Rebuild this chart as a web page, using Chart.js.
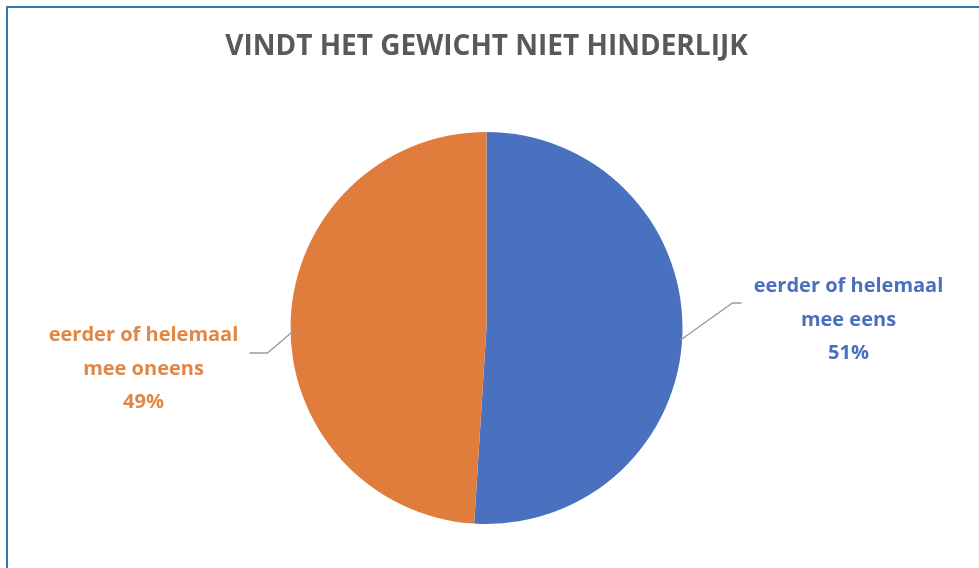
<!DOCTYPE html>
<html>
<head>
<meta charset="utf-8">
<script src="https://cdn.jsdelivr.net/npm/chart.js@4/dist/chart.umd.min.js"></script>
<style>
  html, body { margin: 0; padding: 0; background: #fff; overflow: hidden; }
  #wrap { position: relative; width: 979px; height: 568px; }
  #frame {
    position: absolute; left: 6px; top: 6px; right: -10px; bottom: -10px;
    border-left: 2px solid #2f77b5; border-top: 2px solid #2f77b5;
    pointer-events: none;
  }
  canvas { position: absolute; left: 0; top: 0; }
</style>
</head>
<body>
<div id="wrap">
  <canvas id="chart" width="979" height="568"></canvas>
  <div id="frame"></div>
</div>
<script>
// --- data ---
const titleText = 'VINDT HET GEWICHT NIET HINDERLIJK';
const categories = [
  ['eerder of helemaal', 'mee eens'],
  ['eerder of helemaal', 'mee oneens']
];
const values = [51, 49];
const sliceColors = ['#4a71c0', '#e07d3c'];
const labelColors = ['#4a6fbf', '#e08746'];

// label text blocks and leader lines, placed beside each slice
// (offsets are relative to the pie centre / slice edge)
const labelPlacement = [
  { dx: 362, dy: -8, edgeDy: 12, elbow: [52, -37], end: [61, -37] },
  { dx: -343, dy: 41, edgeDy: 2, elbow: [-27, 23], end: [-45, 23] }
];

const pieLabels = {
  id: 'pieLabels',
  afterDatasetsDraw(chart) {
    const ctx = chart.ctx;
    const meta = chart.getDatasetMeta(0);
    meta.data.forEach((arc, i) => {
      const { x, y, outerRadius } = arc.getProps(['x', 'y', 'outerRadius'], true);
      const p = labelPlacement[i];
      const right = p.dx > 0;

      // leader line from the slice edge
      const sx = x + (right ? outerRadius - 2 : -outerRadius + 4);
      const sy = y + p.edgeDy;
      ctx.save();
      ctx.strokeStyle = '#9a9a9a';
      ctx.lineWidth = 1.3;
      ctx.beginPath();
      ctx.moveTo(sx, sy);
      ctx.lineTo(sx + p.elbow[0], sy + p.elbow[1]);
      ctx.lineTo(sx + p.end[0], sy + p.end[1]);
      ctx.stroke();

      // text block
      const lines = [...categories[i], values[i] + '%'];
      ctx.fillStyle = labelColors[i];
      ctx.font = 'bold 20px "Open Sans", "Noto Sans", sans-serif';
      ctx.textAlign = 'center';
      ctx.textBaseline = 'middle';
      lines.forEach((t, k) => {
        ctx.fillText(t, x + p.dx, y + p.dy + (k - 1) * 33.5);
      });
      ctx.restore();
    });
  }
};

new Chart(document.getElementById('chart'), {
  type: 'pie',
  data: {
    labels: categories.map(c => c.join(' ')),
    datasets: [{
      data: values,
      backgroundColor: sliceColors,
      borderWidth: 0
    }]
  },
  options: {
    responsive: false,
    animation: false,
    layout: { padding: { left: 0, right: 6, top: 0, bottom: 44 } },
    plugins: {
      legend: { display: false },
      tooltip: { enabled: false },
      title: {
        display: true,
        text: titleText,
        color: '#595959',
        font: { family: '"Open Sans", "Noto Sans", sans-serif', size: 28, weight: 'bold' },
        padding: { top: 30, bottom: 68.4 }
      }
    }
  },
  plugins: [pieLabels]
});
</script>
</body>
</html>
